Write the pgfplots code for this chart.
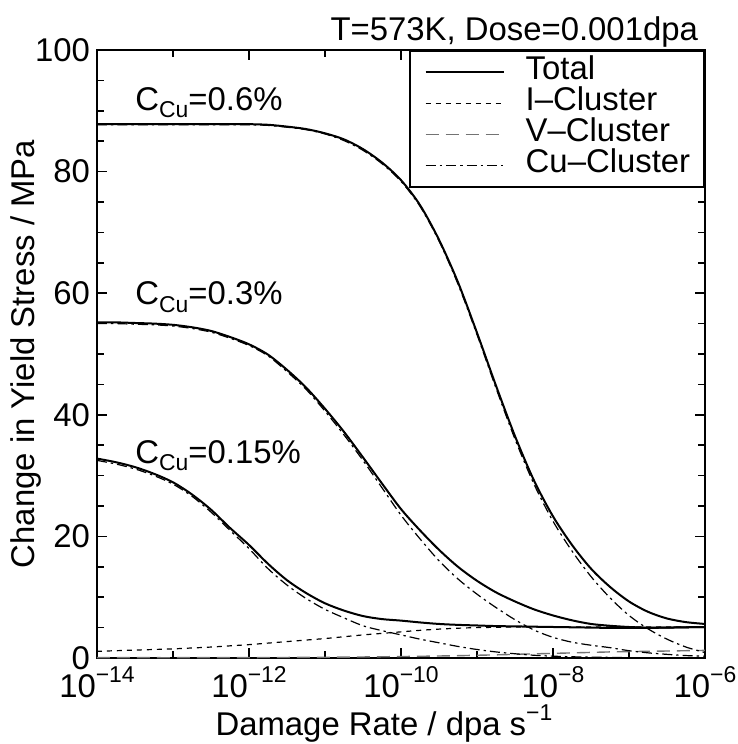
\documentclass[border=0pt]{standalone}
\usepackage{fontspec}
\setmainfont{Liberation Sans}
\usepackage{pgfplots}
\usepackage{pgfplotstable}
\pgfplotsset{compat=1.18}

% raised / lowered small text for 10^-n, s^-1 and C_Cu
\newcommand{\sups}[1]{\raisebox{7.5bp}{\fontsize{11.5}{12}\selectfont #1}}
\newcommand{\subs}[1]{\raisebox{-3.7bp}{\fontsize{11.5}{12}\selectfont #1}}

% hardening vs damage rate
\pgfplotstableread{
x          tsix  csix  tthr  cthr  tfif  cfif  icl   vcl
1e-14      87.8  87.7  55.2  55.0  32.8  32.5  1.1   0.05
1.778e-14  87.8  87.7  55.2  55.0  32.2  31.9  1.2   0.05
3.162e-14  87.8  87.7  55.1  54.9  31.4  31.1  1.3   0.05
5.623e-14  87.8  87.7  55.0  54.8  30.3  30.0  1.4   0.05
1e-13      87.8  87.7  54.8  54.6  28.9  28.6  1.5   0.05
1.778e-13  87.8  87.7  54.4  54.2  26.9  26.6  1.65  0.06
3.162e-13  87.8  87.7  53.8  53.6  24.4  24.0  1.8   0.06
5.623e-13  87.8  87.7  52.8  52.6  21.4  21.0  2.0   0.07
1e-12      87.8  87.7  51.6  51.4  18.6  18.0  2.2   0.07
1.778e-12  87.7  87.6  49.9  49.7  15.5  14.7  2.45  0.08
3.162e-12  87.4  87.3  47.4  47.1  12.8  12.0  2.7   0.09
5.623e-12  87.0  86.9  44.5  44.2  10.7  9.8   2.95  0.1
1e-11      86.3  86.2  41.0  40.6  9.0   8.0   3.2   0.12
1.778e-11  85.3  85.1  37.2  36.7  7.8   6.6   3.5   0.14
3.162e-11  83.7  83.5  33.0  32.5  6.9   5.3   3.8   0.17
5.623e-11  81.5  81.3  28.7  28.0  6.4   4.5   4.05  0.2
1e-10      78.6  78.4  24.5  23.5  6.15  3.8   4.3   0.24
1.778e-10  74.5  74.3  21.0  19.6  5.85  3.1   4.55  0.28
3.162e-10  68.8  68.6  17.8  16.0  5.6   2.5   4.75  0.33
5.623e-10  61.8  61.5  15.0  13.0  5.45  1.9   4.9   0.38
1e-9       53.5  53.2  12.7  10.5  5.35  1.4   5.0   0.45
1.778e-9   44.8  44.4  10.8  8.3   5.25  1.0   5.05  0.52
3.162e-9   36.5  36.0  9.3   6.3   5.2   0.7   5.1   0.6
5.623e-9   29.2  28.6  8.0   4.6   5.15  0.45  5.1   0.68
1e-8       23.3  22.5  7.0   3.4   5.1   0.3   5.1   0.76
1.778e-8   18.6  17.6  6.2   2.6   5.05  0.2   5.1   0.84
3.162e-8   14.7  13.4  5.6   2.1   5.0   0.15  5.1   0.92
5.623e-8   11.7  9.9   5.3   1.7   4.95  0.1   5.1   1.0
1e-7       9.3   7.0   5.1   1.2   4.95  0.05  5.1   1.05
1.778e-7   7.6   4.8   5.0   0.85  4.95  0.05  5.1   1.1
3.162e-7   6.5   3.1   5.0   0.6   5.0   0.05  5.1   1.15
5.623e-7   5.9   1.8   5.05  0.4   5.05  0.05  5.1   1.2
1e-6       5.6   0.9   5.1   0.3   5.1   0.05  5.15  1.25
}\rates

\begin{document}
\begin{tikzpicture}[font=\fontsize{16.5}{19}\selectfont]
\begin{axis}[
  scale only axis, width=304bp, height=304bp,
  clip mode=individual,
  xmode=log, xmin=1e-14, xmax=1e-6, ymin=0, ymax=100,
  xtick={1e-14,1e-12,1e-10,1e-8,1e-6},
  xticklabels={10\sups{−14},10\sups{−12},10\sups{−10},10\sups{−8},10\sups{−6}},
  minor xtick={1e-13,1e-11,1e-9,1e-7},
  ytick={0,20,...,100}, minor y tick num=3,
  major tick length=5bp, minor tick length=3.5bp,
  tick style={line width=0.8bp, black},
  axis line style={line width=1bp},
  xticklabel style={anchor=base, yshift=-19.5bp},
  yticklabel style={/pgf/number format/assume math mode=true},
  every axis x label/.style={at={(axis description cs:0.472,-0.127)}, anchor=base},
  every axis y label/.style={at={(axis description cs:-0.102,0.5)}, rotate=90, anchor=base},
  xlabel={Damage Rate / dpa s\sups{−1}},
  ylabel={Change in Yield Stress / MPa},
  legend style={at={(rel axis cs:1,1)}, anchor=north east, draw=black, line width=0.8bp,
    fill=white, inner xsep=2bp, inner ysep=3bp, row sep=0pt, column sep=0pt,
    nodes={inner xsep=5bp, inner ysep=0pt, text height=11.5bp, text depth=4bp}},
  legend cell align=left,
  legend image code/.code={\path (-5.5bp,0bp) (44.5bp,0bp);\draw[#1] (0bp,0bp) -- (39bp,0bp);},
  tot/.style={black, line width=1bp, smooth},
  icl/.style={black, line width=0.6bp, smooth, dash pattern=on 2.5bp off 2.5bp},
  vcl/.style={black!55, line width=0.7bp, smooth, dash pattern=on 6.5bp off 3.5bp},
  ccl/.style={black, line width=0.6bp, smooth, dash pattern=on 5bp off 2bp on 1.2bp off 2bp},
]
\coordinate (O) at (rel axis cs:0,0);
\addplot[tot] table[x=x, y=tsix] {\rates};
\addlegendentry{Total}
\addplot[icl] table[x=x, y=icl] {\rates};
\addlegendentry{I–Cluster}
\addplot[vcl] table[x=x, y=vcl] {\rates};
\addlegendentry{V–Cluster}
\addplot[ccl] table[x=x, y=csix] {\rates};
\addlegendentry{Cu–Cluster}
\addplot[ccl, forget plot] table[x=x, y=cthr] {\rates};
\addplot[ccl, forget plot] table[x=x, y=cfif] {\rates};
\addplot[tot, forget plot] table[x=x, y=tthr] {\rates};
\addplot[tot, forget plot] table[x=x, y=tfif] {\rates};

\node[anchor=base east] at ([yshift=4.5bp]rel axis cs:1,1) {T=573K, Dose=0.001dpa};
\node[anchor=base west, inner sep=0pt] at (axis cs:3.16e-14,90.1) {C\subs{Cu}=0.6\%};
\node[anchor=base west, inner sep=0pt] at (axis cs:3.16e-14,58.1) {C\subs{Cu}=0.3\%};
\node[anchor=base west, inner sep=0pt] at (axis cs:3.16e-14,32.0) {C\subs{Cu}=0.15\%};
\end{axis}
\pgfresetboundingbox
\path[use as bounding box] (O) ++(-48.5bp,-43bp) rectangle ++(369bp,372bp);
\end{tikzpicture}
\end{document}
